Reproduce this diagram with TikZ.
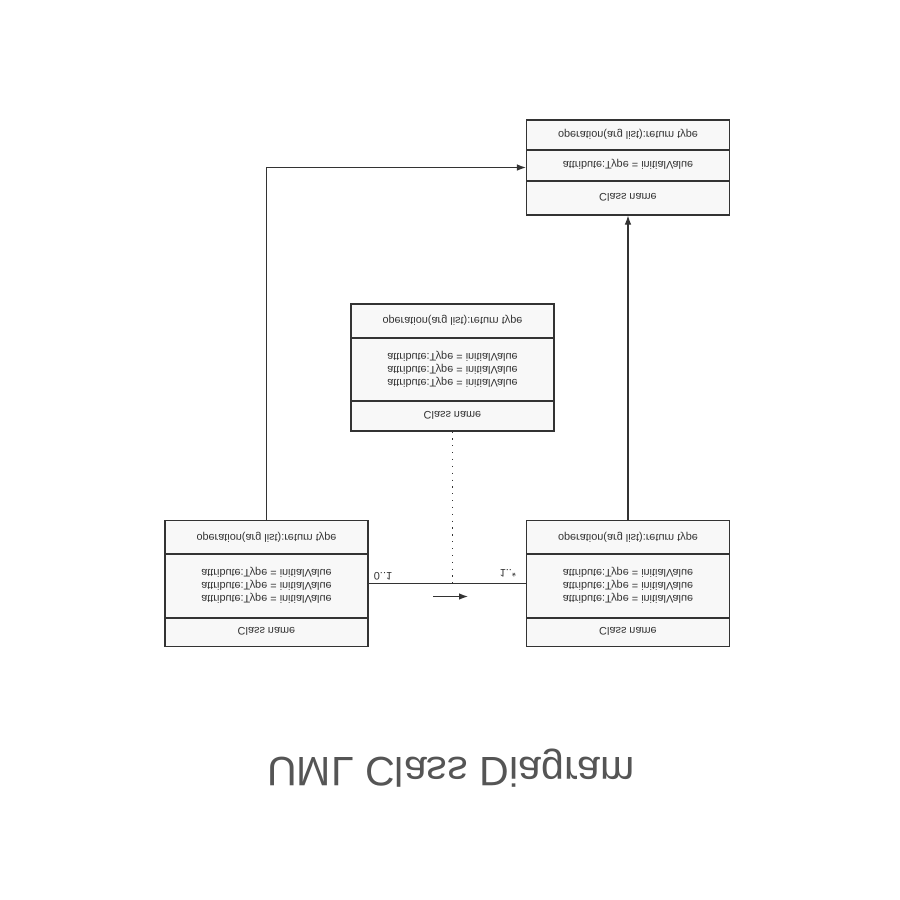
\documentclass[tikz,border=0pt]{standalone}
\usepackage{fontspec}
\setmainfont{Liberation Sans}
\usetikzlibrary{arrows.meta}

\definecolor{boxfill}{HTML}{F8F8F8}
\definecolor{linegray}{HTML}{333333}
\definecolor{titlegray}{HTML}{555555}

\tikzset{
  classbox/.style={draw=linegray, fill=boxfill, inner sep=0pt, minimum width=2.03cm},
  flip/.style={yscale=-1, text=linegray, font=\fontsize{3.1}{3.7}\selectfont, align=center, inner sep=0pt},
}

\begin{document}
\begin{tikzpicture}[>={Latex[length=0.9mm,width=0.65mm]}, line width=0.3pt, color=linegray]
   \useasboundingbox[fill=white] (0,0) rectangle (9,-9);

   % class boxes
   \node[classbox, minimum height=0.95cm] (top) at (6.28,-1.675) {};
   \node[classbox, minimum height=1.27cm] (mid) at (4.525,-3.675) {};
   \node[classbox, minimum height=1.26cm] (left) at (2.665,-5.835) {};
   \node[classbox, minimum height=1.26cm] (right) at (6.28,-5.835) {};

   % compartments
   \draw (5.26,-1.50) -- (7.30,-1.50);
   \draw (5.26,-1.81) -- (7.30,-1.81);
   \draw (3.51,-3.38) -- (5.54,-3.38);
   \draw (3.51,-4.01) -- (5.54,-4.01);
   \draw (1.65,-5.54) -- (3.68,-5.54);
   \draw (1.65,-6.18) -- (3.68,-6.18);
   \draw (5.26,-5.54) -- (7.30,-5.54);
   \draw (5.26,-6.18) -- (7.30,-6.18);

   % texts
   \node[flip] (topop) at (6.28,-1.345) {operation(arg list):return type};
   \node[flip] (topattr) at (6.28,-1.64) {attribute:Type = initialValue};
   \node[flip] (topname) at (6.28,-1.97) {Class name};

   \node[flip] (midop) at (4.525,-3.20) {operation(arg list):return type};
   \node[flip] (midattr) at (4.525,-3.69) {attribute:Type = initialValue\\attribute:Type = initialValue\\attribute:Type = initialValue};
   \node[flip] (midname) at (4.525,-4.15) {Class name};

   \node[flip] (leftop) at (2.665,-5.37) {operation(arg list):return type};
   \node[flip] (leftattr) at (2.665,-5.85) {attribute:Type = initialValue\\attribute:Type = initialValue\\attribute:Type = initialValue};
   \node[flip] (leftname) at (2.665,-6.31) {Class name};

   \node[flip] (rightop) at (6.28,-5.37) {operation(arg list):return type};
   \node[flip] (rightattr) at (6.28,-5.85) {attribute:Type = initialValue\\attribute:Type = initialValue\\attribute:Type = initialValue};
   \node[flip] (rightname) at (6.28,-6.31) {Class name};

   % links
   \draw[->] (left.north) |- (top.west);
   \draw[->] (right.north) -- (top.south);
   \draw (left.east) -- (right.west);
   \draw[dash pattern=on 0.35pt off 1.6pt] (mid.south) -- (mid.south |- left.east);

   \node[flip] (mlow) at (3.83,-5.765) {0..1};
   \node[flip] (mhigh) at (5.08,-5.73) {1..*};

   \coordinate (dirA) at (4.33,-5.965);
   \coordinate (dirB) at (4.68,-5.965);
   \draw[->] (dirA) -- (dirB);

   % title
   \node[flip, font=\fontsize{11.7}{14}\selectfont, text=titlegray, anchor=base] (title) at (4.51,-7.575) {UML Class Diagram};
\end{tikzpicture}
\end{document}
